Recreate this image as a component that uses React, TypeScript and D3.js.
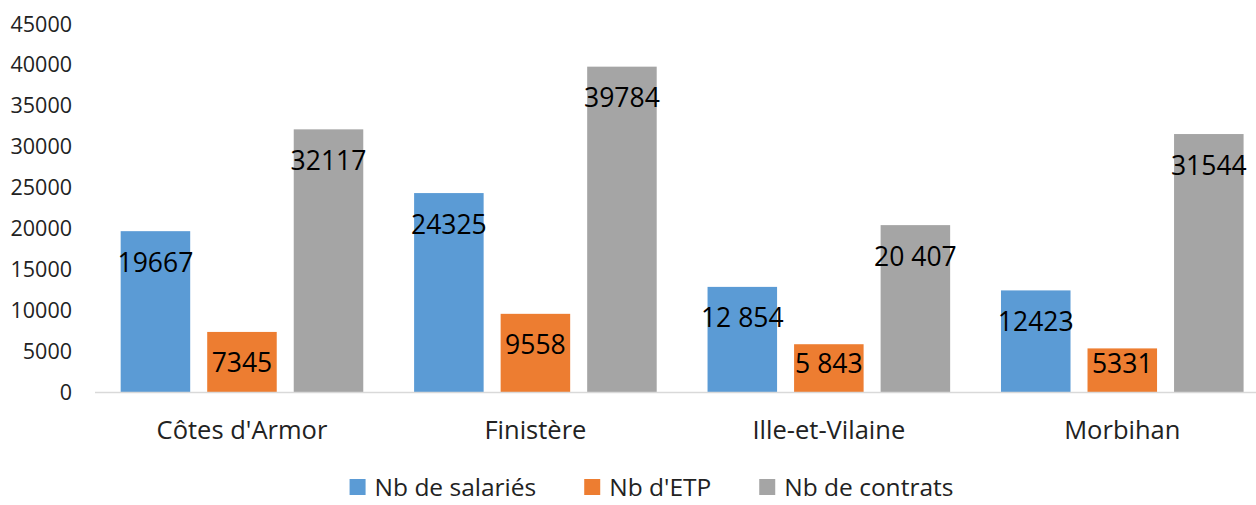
import React, { useEffect, useRef } from "react";
import * as d3 from "d3";

const categories = ["Côtes d'Armor", "Finistère", "Ille-et-Vilaine", "Morbihan"];
const seriesNames = ["Nb de salariés", "Nb d'ETP", "Nb de contrats"];
const salaries = [19667, 24325, 12854, 12423];
const etp = [7345, 9558, 5843, 5331];
const contrats = [32117, 39784, 20407, 31544];
const salariesLabels = ["19667", "24325", "12 854", "12423"];
const etpLabels = ["7345", "9558", "5 843", "5331"];
const contratsLabels = ["32117", "39784", "20 407", "31544"];
const yTicks = [0, 5000, 10000, 15000, 20000, 25000, 30000, 35000, 40000, 45000];
const colors = ["#5B9BD5", "#ED7D31", "#A5A5A5"];

const W = 1256;
const H = 505;
const FONT = "'Open Sans', sans-serif";

export default function App() {
  const ref = useRef<SVGSVGElement>(null);

  useEffect(() => {
    const svg = d3.select(ref.current);
    svg.selectAll("*").remove();

    const values = [salaries, etp, contrats];
    const labels = [salariesLabels, etpLabels, contratsLabels];

    const y = d3.scaleLinear().domain([0, 45000]).range([392, 24]);
    const x0 = d3.scaleBand<string>().domain(categories).range([95.25, 1269]).padding(0);
    const inset = (x0.bandwidth() - 242.6) / 2;
    const x1 = d3
      .scaleBand<string>()
      .domain(seriesNames)
      .range([inset, x0.bandwidth() - inset])
      .paddingInner(0.1965)
      .paddingOuter(0);

    // y axis labels
    const yg = svg.append("g");
    yg.selectAll("text")
      .data(yTicks)
      .join("text")
      .attr("x", 72)
      .attr("y", (d) => y(d))
      .attr("dy", "0.35em")
      .attr("text-anchor", "end")
      .attr("font-family", FONT)
      .attr("font-size", 21.5)
      .attr("fill", "#222")
      .text((d) => String(d));

    // bars
    seriesNames.forEach((s, si) => {
      const g = svg.append("g");
      g.selectAll("rect")
        .data(categories)
        .join("rect")
        .attr("x", (c) => (x0(c) as number) + (x1(s) as number))
        .attr("y", (c, i) => y(values[si][i]))
        .attr("width", x1.bandwidth())
        .attr("height", (c, i) => y(0) - y(values[si][i]))
        .attr("fill", colors[si]);
    });

    // axis line
    svg
      .append("line")
      .attr("x1", 95)
      .attr("x2", W)
      .attr("y1", y(0) + 0.5)
      .attr("y2", y(0) + 0.5)
      .attr("stroke", "#d9d9d9")
      .attr("stroke-width", 1.5);

    // data labels
    seriesNames.forEach((s, si) => {
      const g = svg.append("g");
      g.selectAll("text")
        .data(categories)
        .join("text")
        .attr("x", (c) => (x0(c) as number) + (x1(s) as number) + x1.bandwidth() / 2)
        .attr("y", (c, i) => Math.min(y(values[si][i]) + 31, 363))
        .attr("dy", "0.36em")
        .attr("text-anchor", "middle")
        .attr("font-family", FONT)
        .attr("font-size", 26.5)
        .attr("fill", "#000")
        .text((c, i) => labels[si][i]);
    });

    // category labels
    svg
      .append("g")
      .selectAll("text")
      .data(categories)
      .join("text")
      .attr("x", (c) => (x0(c) as number) + x0.bandwidth() / 2)
      .attr("y", 430)
      .attr("dy", "0.36em")
      .attr("text-anchor", "middle")
      .attr("font-family", FONT)
      .attr("font-size", 25.5)
      .attr("fill", "#222")
      .text((c) => c);

    // legend
    const lg = svg.append("g");
    const items = seriesNames.map((s, i) => {
      const gi = lg.append("g");
      gi.append("rect").attr("width", 16).attr("height", 16).attr("y", -8).attr("fill", colors[i]);
      const t = gi
        .append("text")
        .attr("x", 25)
        .attr("dy", "0.36em")
        .attr("font-family", FONT)
        .attr("font-size", 24.5)
        .attr("fill", "#222")
        .text(s);
      const w = 25 + (t.node() as SVGTextElement).getComputedTextLength();
      return { gi, w };
    });
    const gap = 48;
    const total = items.reduce((a, b) => a + b.w, 0) + gap * (items.length - 1);
    let cx = 651.5 - total / 2;
    items.forEach((it) => {
      it.gi.attr("transform", `translate(${cx},487)`);
      cx += it.w + gap;
    });
  }, []);

  return (
    <div style={{ position: "absolute", left: 0, top: 0, background: "#fff" }}>
      <svg ref={ref} width={W} height={H} style={{ display: "block" }} />
    </div>
  );
}
